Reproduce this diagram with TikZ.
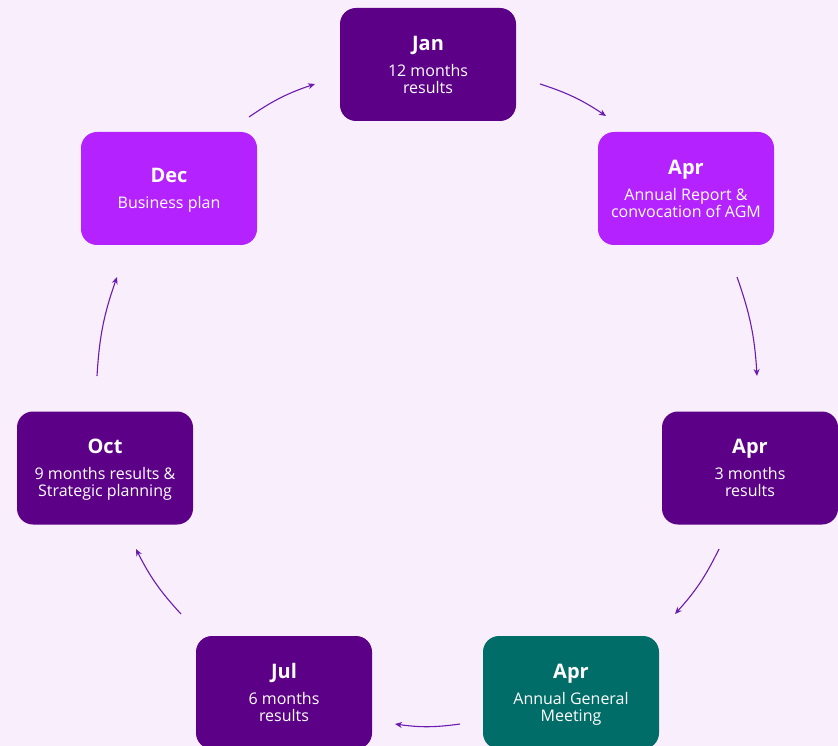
\documentclass[tikz,border=0pt]{standalone}
\usepackage{fontspec}
\setmainfont{Open Sans}
\usetikzlibrary{arrows.meta, positioning}

\definecolor{lavenderbg}{HTML}{F9EFFC}
\definecolor{deepplum}{HTML}{5C0087}
\definecolor{brightplum}{HTML}{B422FF}
\definecolor{agmteal}{HTML}{006D68}
\definecolor{arrowplum}{HTML}{6A1BB0}

\begin{document}
\begin{tikzpicture}[x=1pt, y=-1pt,
    month/.style={rectangle, rounded corners=16pt, minimum width=176pt, minimum height=113pt,
        text=white, align=center, font=\fontsize{16}{17}\selectfont, text depth=0pt},
    flow/.style={-{Stealth[length=7pt, width=6pt]}, line width=1.1pt, draw=arrowplum, bend left=8}
]
    \fill[lavenderbg] (0,0) rectangle (838,746);
    \useasboundingbox (0,0) rectangle (838,746);

    \node[month, fill=deepplum] (jan) at (428,64.5) {{\fontsize{20}{24}\selectfont\bfseries Jan}\\[9pt]12 months\\results};
    \node[month, fill=brightplum] (aprreport) at (686,188.5) {{\fontsize{20}{24}\selectfont\bfseries Apr}\\[9pt]Annual Report \&\\convocation of AGM};
    \node[month, fill=deepplum] (aprq1) at (750,468) {{\fontsize{20}{24}\selectfont\bfseries Apr}\\[9pt]3 months\\results};
    \node[month, fill=agmteal] (apragm) at (571,692.5) {{\fontsize{20}{24}\selectfont\bfseries Apr}\\[9pt]Annual General\\Meeting};
    \node[month, fill=deepplum] (jul) at (284,692.5) {{\fontsize{20}{24}\selectfont\bfseries Jul}\\[9pt]6 months\\results};
    \node[month, fill=deepplum] (oct) at (105,468) {{\fontsize{20}{24}\selectfont\bfseries Oct}\\[9pt]9 months results \&\\Strategic planning};
    \node[month, fill=brightplum] (dec) at (169,188.5) {{\fontsize{20}{24}\selectfont\bfseries Dec}\\[9pt]Business plan};

    % arrow ends
    \coordinate (decout) at (249,117);
    \coordinate (janin) at (315,84);
    \coordinate (janout) at (540,84);
    \coordinate (reportin) at (606,116);
    \coordinate (reportout) at (737,277);
    \coordinate (q1in) at (757,376);
    \coordinate (q1out) at (719,549);
    \coordinate (agmin) at (675,614);
    \coordinate (agmout) at (460,724);
    \coordinate (julin) at (395,724);
    \coordinate (julout) at (181,614);
    \coordinate (octin) at (136,549);
    \coordinate (octout) at (97,376);
    \coordinate (decin) at (117,277);

    \draw[flow] (decout) to (janin);
    \draw[flow] (janout) to (reportin);
    \draw[flow] (reportout) to (q1in);
    \draw[flow] (q1out) to (agmin);
    \draw[flow] (agmout) to (julin);
    \draw[flow] (julout) to (octin);
    \draw[flow] (octout) to (decin);
\end{tikzpicture}
\end{document}
